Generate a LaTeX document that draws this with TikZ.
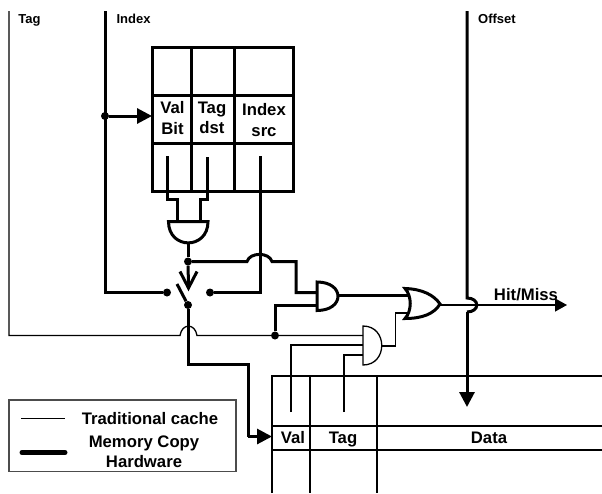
\documentclass[tikz,border=0pt]{standalone}
\usepackage{fontspec}
\setmainfont{Liberation Sans}
\usetikzlibrary{arrows.meta}
\tikzset{
  thin wire/.style={line width=1.3pt},
  thick wire/.style={line width=3pt},
  dot/.style={circle, fill, inner sep=0pt, minimum size=8pt},
  big label/.style={font=\fontsize{16.7}{20.6}\selectfont\bfseries, inner sep=0pt, align=center},
  small label/.style={font=\fontsize{13}{15}\selectfont\bfseries, inner sep=0pt, anchor=base},
  tip/.style={-{Triangle[length=15pt,width=15pt]}},
  small tip/.style={-{Triangle[length=12pt,width=13pt]}}
}
\begin{document}
\begin{tikzpicture}[x=1pt,y=-1pt,line join=miter]
\useasboundingbox (0,0) rectangle (602,493);
% labels on top
\node[small label] (ltag) at (29.5,23){Tag};
\node[small label] (lindex) at (133.5,23){Index};
\node[small label] (loffset) at (497,23){Offset};
% directory table
\coordinate (ta) at (152,47);
\coordinate (tb) at (293,191);
\draw[thick wire] (ta) rectangle (tb);
\draw[thick wire] (191,47) -- (191,191);
\draw[thick wire] (234,47) -- (234,191);
\draw[thick wire] (152,95) -- (293,95);
\draw[thick wire] (152,143) -- (293,143);
\node[big label] (lval) at (172.5,118){Val\\Bit};
\node[big label] (ltagd) at (212,118){Tag\\dst};
\node[big label] (lidx) at (264,120){Index\\src};
% dots
\node[dot] (didx) at (105,116){};
\node[dot] (dand) at (188,261.5){};
\node[dot] (dleft) at (167,292.5){};
\node[dot] (dright) at (210,292.5){};
\node[dot] (dsw) at (188,305){};
\node[dot] (dtag) at (275,335.5){};
% index and arrow into table
\coordinate (idxtop) at (105,11);
\draw[thick wire] (idxtop) |- (dleft);
\draw[thick wire, tip] (didx) -- (152,116);
% outputs of table
\coordinate (gaa) at (177,221.5);
\coordinate (gab) at (200,221.5);
\coordinate (vbot) at (167.5,156);
\coordinate (tbot) at (207,157);
\coordinate (ibot) at (260,156);
\draw[thick wire] (vbot) -- (167.5,199.5) -- (177,199.5) -- (gaa);
\draw[thick wire] (tbot) -- (207,199.5) -- (200,199.5) -- (gab);
\draw[thick wire] (ibot) |- (dright);
% and gate under table
\draw[thick wire] (168.5,221.5) -- (208,221.5) .. controls (208,250) and (168.5,250) .. cycle;
\draw[thick wire] (188,243) -- (dand);
% switch
\coordinate (chl) at (180,271.5);
\coordinate (chr) at (197,271.5);
\coordinate (chm) at (188.5,288);
\coordinate (arm) at (177,284);
\draw[thick wire] (dand) -- (chm);
\draw[thick wire] (chl) -- (chm) -- (chr);
\draw[thick wire] (arm) -- (dsw);
% and gate to or gate
\coordinate (bma) at (247,261.5);
\coordinate (bmb) at (272,261.5);
\draw[thick wire] (dand) -- (bma) .. controls (250,252) and (269,252) .. (bmb) -- (296,261.5) -- (296,292.5) -- (317,292.5);
\draw[thick wire] (dtag) -- (275,305) -- (317,305);
\draw[thick wire] (317,282) -- (317,310.5) .. controls (345,310.5) and (345,282) .. cycle;
\draw[thick wire] (337,295.5) -- (409,295.5);
% or gate
\draw[thick wire] (405,288.5) .. controls (412,296) and (412,311) .. (405,318.5) .. controls (422,318.5) and (434,314) .. (440,304) .. controls (434,295) and (422,289) .. cycle;
% tag line
\coordinate (tagtop) at (9,11);
\coordinate (tagb) at (180,335.5);
\coordinate (tagc) at (197,335.5);
\draw[thin wire] (tagtop) |- (tagb) .. controls (182,323) and (195,323) .. (tagc) -- (dtag) -- (363,335.5);
% val tag inputs
\draw[thin wire] (291,412) |- (363,345);
\draw[thin wire] (344,412) |- (363,355);
\draw[thin wire] (363,326) -- (363,365) .. controls (388,365) and (388,326) .. cycle;
\draw[thin wire] (382,346) -- (395.5,346) -- (395.5,313) -- (408,313);
% copy path to data array
\draw[thick wire] (dsw) -- (188,364) -- (248,364) -- (248,436.5);
\draw[thick wire, tip] (248,436.5) -- (272,436.5);
% offset and hit miss
\coordinate (offtop) at (467,11);
\coordinate (ofa) at (467,298);
\coordinate (ofb) at (467,312);
\draw[thick wire] (offtop) -- (ofa) .. controls (480,298) and (480,312) .. (ofb);
\draw[thick wire, tip] (ofb) -- (467,407);
\draw[thin wire, small tip] (440,305) -- (567,305);
\node[big label, anchor=base] (lhit) at (526,300){Hit/Miss};
% cache array
\draw[thin wire] (272,493) -- (272,376) -- (602,376);
\draw[thin wire] (272,426) -- (602,426);
\draw[thin wire] (272,450) -- (602,450);
\draw[thin wire] (310,376) -- (310,493);
\draw[thin wire] (377,376) -- (377,493);
\node[big label, anchor=base] (lv) at (293,443){Val};
\node[big label, anchor=base] (lt) at (343,443){Tag};
\node[big label, anchor=base] (ld) at (489,443){Data};
% legend
\draw[thin wire, draw=black!70] (9,400) rectangle (236,471.5);
\draw[thin wire] (21,418.5) -- (65,418.5);
\draw[line width=5pt, line cap=round] (22,452.5) -- (65,452.5);
\node[big label, anchor=base] (ltrad) at (150,424){Traditional cache};
\node[big label] (lmem) at (144,451.8){Memory Copy\\Hardware};
\end{tikzpicture}
\end{document}
